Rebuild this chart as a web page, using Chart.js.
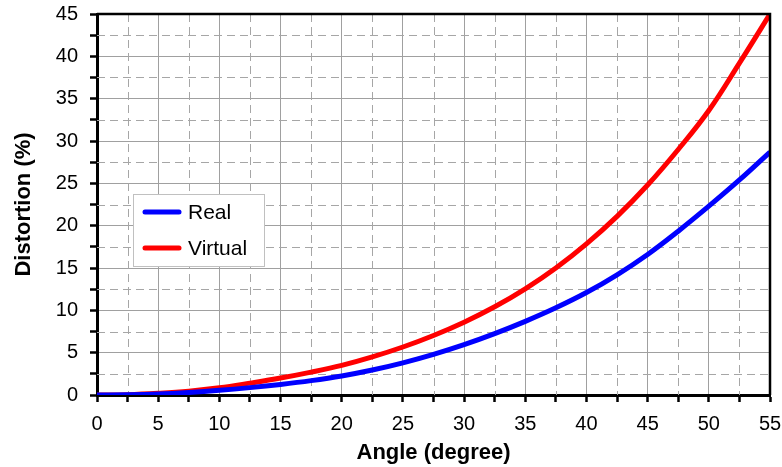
<!DOCTYPE html>
<html>
<head>
<meta charset="utf-8">
<script src="https://cdn.jsdelivr.net/npm/chart.js@4.4.1/dist/chart.umd.min.js"></script>
<style>
  html, body { margin: 0; padding: 0; background: #fff; }
  #wrap { width: 782px; height: 467px; }
</style>
</head>
<body>
<div id="wrap"><canvas id="chart"></canvas></div>
<script>
// --- data ---
const angles  = [0, 2.5, 5, 7.5, 10, 12.5, 15, 17.5, 20, 22.5, 25, 27.5, 30, 32.5, 35, 37.5, 40, 42.5, 45, 47.5, 50, 52.5, 55];
const real    = [0, 0.03, 0.12, 0.3, 0.55, 0.87, 1.25, 1.7, 2.25, 2.95, 3.8, 4.8, 5.95, 7.25, 8.7, 10.3, 12.1, 14.2, 16.6, 19.35, 22.3, 25.4, 28.7];
const virtual = [0, 0.04, 0.2, 0.45, 0.85, 1.4, 2.0, 2.7, 3.5, 4.5, 5.67, 7.03, 8.6, 10.42, 12.54, 15.0, 17.85, 21.1, 24.8, 29.0, 33.6, 39.2, 45];
const seriesNames = ['Real', 'Virtual'];
const seriesColors = ['#0000ff', '#ff0000'];

Chart.defaults.font.family = "'Liberation Sans', Arial, sans-serif";
Chart.defaults.color = '#000';

const isMajor = v => Math.abs(v % 5) < 1e-6;

// dashed minor grid, top/right frame and the boxed legend
const extras = {
  id: 'extras',
  beforeDatasetsDraw(chart) {
    const { ctx, chartArea: a, scales } = chart;
    ctx.save();
    ctx.strokeStyle = '#a6a6a6';
    ctx.lineWidth = 1;
    ctx.setLineDash([8, 5]);
    scales.x.ticks.forEach(t => {
      if (isMajor(t.value)) return;
      const px = Math.round(scales.x.getPixelForValue(t.value)) + 0.5;
      ctx.beginPath(); ctx.moveTo(px, a.top); ctx.lineTo(px, a.bottom); ctx.stroke();
    });
    scales.y.ticks.forEach(t => {
      if (isMajor(t.value)) return;
      const py = Math.round(scales.y.getPixelForValue(t.value)) + 0.5;
      ctx.beginPath(); ctx.moveTo(a.left, py); ctx.lineTo(a.right, py); ctx.stroke();
    });
    ctx.restore();
  },
  afterDraw(chart) {
    const { ctx, chartArea: a } = chart;
    ctx.save();
    ctx.strokeStyle = '#000';
    ctx.lineWidth = 2.5;
    ctx.beginPath();
    ctx.moveTo(a.left, a.top); ctx.lineTo(a.right, a.top); ctx.lineTo(a.right, a.bottom);
    ctx.stroke();

    // legend box
    const bx = a.left + 36, by = a.top + 180, bw = 131, bh = 72;
    ctx.fillStyle = '#fff';
    ctx.fillRect(bx, by, bw, bh);
    ctx.strokeStyle = '#c0c0c0';
    ctx.lineWidth = 1;
    ctx.strokeRect(bx + 0.5, by + 0.5, bw, bh);
    ctx.font = "21px 'Liberation Sans', Arial, sans-serif";
    ctx.textBaseline = 'middle';
    chart.data.datasets.forEach((ds, i) => {
      const ly = by + 18 + i * 36;
      ctx.strokeStyle = ds.borderColor;
      ctx.lineWidth = 5;
      ctx.lineCap = 'round';
      ctx.beginPath(); ctx.moveTo(bx + 12, ly); ctx.lineTo(bx + 46, ly); ctx.stroke();
      ctx.fillStyle = '#000';
      ctx.fillText(ds.label, bx + 55, ly + 1);
    });
    ctx.restore();
  }
};

const makeSeries = vals => angles.map((x, i) => ({ x: x, y: vals[i] }));

new Chart(document.getElementById('chart'), {
  type: 'line',
  data: {
    datasets: [real, virtual].map((vals, i) => ({
      label: seriesNames[i],
      data: makeSeries(vals),
      borderColor: seriesColors[i],
      borderWidth: 5,
      pointRadius: 0,
      tension: 0.4,
      fill: false
    }))
  },
  options: {
    responsive: true,
    maintainAspectRatio: false,
    animation: false,
    layout: { padding: { top: 14, right: 12, left: 0, bottom: 0 } },
    plugins: { legend: { display: false }, tooltip: { enabled: false } },
    scales: {
      x: {
        type: 'linear',
        min: 0, max: 55,
        afterFit: s => { s.height = 72; s.paddingLeft = 0; s.paddingRight = 0; },
        ticks: {
          stepSize: 2.5,
          autoSkip: false,
          maxRotation: 0,
          padding: 10,
          font: { size: 20 },
          callback: v => isMajor(v) ? v : ''
        },
        grid: {
          color: c => (c.tick && isMajor(c.tick.value)) ? '#a0a0a0' : 'rgba(0,0,0,0)',
          lineWidth: 1,
          tickColor: '#000',
          tickWidth: 2.5,
          tickLength: 7
        },
        border: { color: '#000', width: 3 },
        title: {
          display: true,
          text: 'Angle (degree)',
          font: { size: 22, weight: 'bold' },
          padding: { top: 0, bottom: 1 }
        }
      },
      y: {
        min: 0, max: 45,
        afterFit: s => { s.width = 97; s.paddingTop = 0; s.paddingBottom = 0; },
        ticks: {
          stepSize: 2.5,
          autoSkip: false,
          padding: 12,
          font: { size: 20 },
          callback: v => isMajor(v) ? v : ''
        },
        grid: {
          color: c => (c.tick && isMajor(c.tick.value)) ? '#a0a0a0' : 'rgba(0,0,0,0)',
          lineWidth: 1,
          tickColor: '#000',
          tickWidth: 2.5,
          tickLength: 7
        },
        border: { color: '#000', width: 3 },
        title: {
          display: true,
          text: 'Distortion (%)',
          font: { size: 22, weight: 'bold' },
          padding: { top: 11, bottom: 0 }
        }
      }
    }
  },
  plugins: [extras]
});
</script>
</body>
</html>
